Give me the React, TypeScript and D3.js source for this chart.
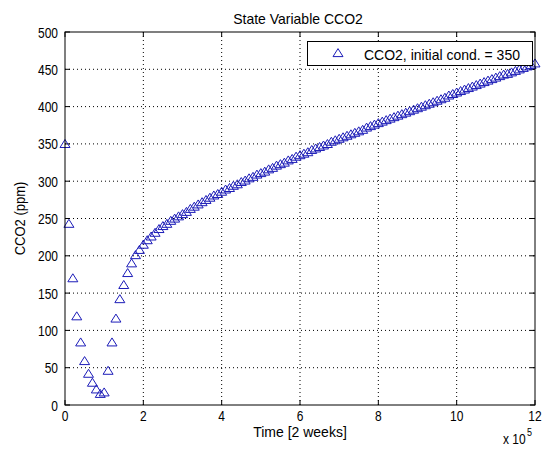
import React from 'react';
import * as d3 from 'd3';

// CCO2 (ppm), one sample every 1e4 time units, from t = 0 to 12e5
const cco2 = [
  350, 243, 170, 119, 84, 59, 42, 30, 21, 15, 17,
  46, 84, 116, 142, 161, 177, 190, 201, 208, 215,
  221, 226, 231, 236, 240, 243, 247, 250, 253, 256,
  259, 263, 266, 269, 272, 275, 278, 281, 283, 286,
  289, 291, 294, 296, 299, 301, 304, 306, 309, 311,
  313, 316, 318, 321, 323, 325, 328, 330, 333, 335,
  337, 339, 342, 344, 346, 348, 350, 353, 355, 357,
  359, 361, 363, 365, 367, 369, 372, 374, 376, 378,
  380, 382, 384, 386, 388, 390, 392, 394, 396, 398,
  400, 402, 404, 406, 408, 410, 412, 415, 417, 419,
  421, 423, 425, 427, 429, 431, 433, 435, 437, 439,
  441, 443, 444, 446, 448, 450, 452, 454, 456, 458,
];
const timeStep = 1e4;
const xTicks = [0, 2, 4, 6, 8, 10, 12]; // x 10^5
const yTicks = [0, 50, 100, 150, 200, 250, 300, 350, 400, 450, 500];
const legendLabel = 'CCO2, initial cond. = 350';

const W = 544;
const H = 450;
const margin = { top: 32, right: 9, bottom: 45, left: 65 };
const font = 'Arial, "Liberation Sans", Helvetica, sans-serif';
const markerColor = '#1c1cb8';

// open triangle marker, ~10px wide and 8px tall
const tri = (cx: number, cy: number) =>
  `M${cx},${cy - 4.4}L${cx + 5},${cy + 3.6}L${cx - 5},${cy + 3.6}Z`;

// the reference text is a bit stretched vertically
const Txt = ({ x, y, size, sy = 1.25, anchor = 'start', rot = 0, children }: any) => (
  <text transform={`translate(${x},${y}) rotate(${rot}) scale(1,${sy})`} textAnchor={anchor}
    fontSize={size} fill="#000">{children}</text>
);

export default function App() {
  const x = d3.scaleLinear().domain([0, 12e5]).range([margin.left, W - margin.right]);
  const y = d3.scaleLinear().domain([0, 500]).range([H - margin.bottom, margin.top]);
  const [x0, x1] = x.range();
  const [y0, y1] = y.range();

  return (
    <svg width={W} height={H} style={{ position: 'absolute', left: 0, top: 0, background: '#fff' }}
      fontFamily={font}>
      <rect x={0} y={0} width={W} height={H} fill="#fff" />
      <Txt x={298} y={24} size={14} sy={1.08} anchor="middle">State Variable CCO2</Txt>

      {/* grid */}
      {xTicks.slice(1, -1).map(t => (
        <line key={'gx' + t} x1={x(t * 1e5)} x2={x(t * 1e5)} y1={y1} y2={y0}
          stroke="#000" strokeDasharray="1,3" />
      ))}
      {yTicks.slice(1, -1).map(t => (
        <line key={'gy' + t} x1={x0} x2={x1} y1={y(t)} y2={y(t)}
          stroke="#000" strokeDasharray="1,3" />
      ))}

      {/* ticks */}
      {xTicks.map(t => (
        <g key={'tx' + t}>
          <line x1={x(t * 1e5)} x2={x(t * 1e5)} y1={y0} y2={y0 - 5} stroke="#000" />
          <line x1={x(t * 1e5)} x2={x(t * 1e5)} y1={y1} y2={y1 + 5} stroke="#000" />
          <Txt x={x(t * 1e5)} y={y0 + 16} size={12} anchor="middle">{t}</Txt>
        </g>
      ))}
      {yTicks.map(t => (
        <g key={'ty' + t}>
          <line x1={x0} x2={x0 + 5} y1={y(t)} y2={y(t)} stroke="#000" />
          <line x1={x1} x2={x1 - 5} y1={y(t)} y2={y(t)} stroke="#000" />
          <Txt x={x0 - 7} y={y(t) + 5.5} size={12} anchor="end">{t}</Txt>
        </g>
      ))}

      {/* data */}
      {cco2.map((v, i) => (
        <path key={i} d={tri(x(i * timeStep), y(v))} fill="none" stroke={markerColor} strokeWidth={1} />
      ))}

      <rect x={x0} y={y1} width={x1 - x0} height={y0 - y1} fill="none" stroke="#000" />

      {/* legend */}
      <rect x={307.5} y={41.5} width={225} height={24} fill="#fff" stroke="#000" />
      <path d={tri(338, 53)} fill="none" stroke={markerColor} />
      <Txt x={364} y={59.5} size={14} sy={1.08}>{legendLabel}</Txt>

      {/* labels */}
      <Txt x={300} y={437} size={14} sy={1.08} anchor="middle">Time [2 weeks]</Txt>
      <Txt x={25} y={(y0 + y1) / 2} size={13} sy={1.1} rot={-90} anchor="middle">CCO2 (ppm)</Txt>
      <Txt x={503} y={444} size={12}>x 10</Txt>
      <Txt x={527} y={436} size={9}>5</Txt>
    </svg>
  );
}
